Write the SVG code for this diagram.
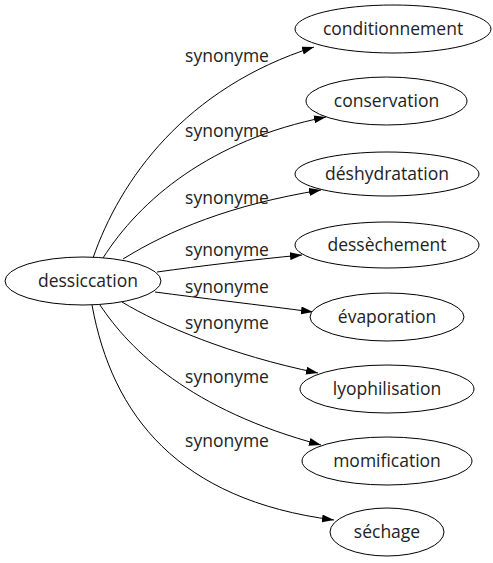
<svg xmlns="http://www.w3.org/2000/svg" width="493" height="563" viewBox="0 0 493 563">
<defs>
<marker id="arr" viewBox="0 0 12 8" refX="12" refY="4" markerWidth="12" markerHeight="8" markerUnits="userSpaceOnUse" orient="auto">
<polygon points="0,0 12,4 0,8" fill="#000"/>
</marker>
</defs>
<style>
.n ellipse{fill:#fff;stroke:#000;stroke-width:1}
.n text,.lbl{font-family:"Open Sans","DejaVu Sans",sans-serif;font-size:17.5px;fill:#222;text-anchor:middle}
.e path{fill:none;stroke:#000;stroke-width:1;marker-end:url(#arr)}
</style>
<rect width="493" height="563" fill="#fff"/>
<g id="edges" class="e">
<path d="M93,258 C120,180 185,88 314,47"/>
<path d="M103,258 C140,200 210,140 326,117"/>
<path d="M123,259 C170,230 230,205 321,190"/>
<path d="M157,272 C200,266 250,260 302,255"/>
<path d="M155,292 C200,298 260,305 313,312"/>
<path d="M122,302 C160,325 230,355 318,373"/>
<path d="M100,305 C130,350 190,410 321,445"/>
<path d="M92,305 C112,415 178,500 334,520"/>
</g>
<g id="labels">
<text class="lbl" x="227" y="62">synonyme</text>
<text class="lbl" x="227" y="137">synonyme</text>
<text class="lbl" x="227" y="204">synonyme</text>
<text class="lbl" x="227" y="256">synonyme</text>
<text class="lbl" x="227" y="293">synonyme</text>
<text class="lbl" x="227" y="329">synonyme</text>
<text class="lbl" x="227" y="383">synonyme</text>
<text class="lbl" x="227" y="447">synonyme</text>
</g>
<g id="n0" class="n"><ellipse cx="83" cy="281" rx="78" ry="24"/><text x="88" y="287">dessiccation</text></g>
<g id="n1" class="n"><ellipse cx="393" cy="29" rx="98" ry="24"/><text x="393" y="35">conditionnement</text></g>
<g id="n2" class="n"><ellipse cx="386.5" cy="101" rx="80.5" ry="24"/><text x="386.5" y="107">conservation</text></g>
<g id="n3" class="n"><ellipse cx="387" cy="174" rx="92" ry="22"/><text x="387" y="180">déshydratation</text></g>
<g id="n4" class="n"><ellipse cx="387" cy="245" rx="92" ry="23"/><text x="387" y="251">dessèchement</text></g>
<g id="n5" class="n"><ellipse cx="387" cy="317" rx="77" ry="24"/><text x="387" y="323">évaporation</text></g>
<g id="n6" class="n"><ellipse cx="387" cy="389" rx="87" ry="24"/><text x="387" y="395">lyophilisation</text></g>
<g id="n7" class="n"><ellipse cx="387" cy="461" rx="85" ry="24"/><text x="387" y="467">momification</text></g>
<g id="n8" class="n"><ellipse cx="387" cy="532" rx="57" ry="24"/><text x="387" y="538">séchage</text></g>
</svg>
